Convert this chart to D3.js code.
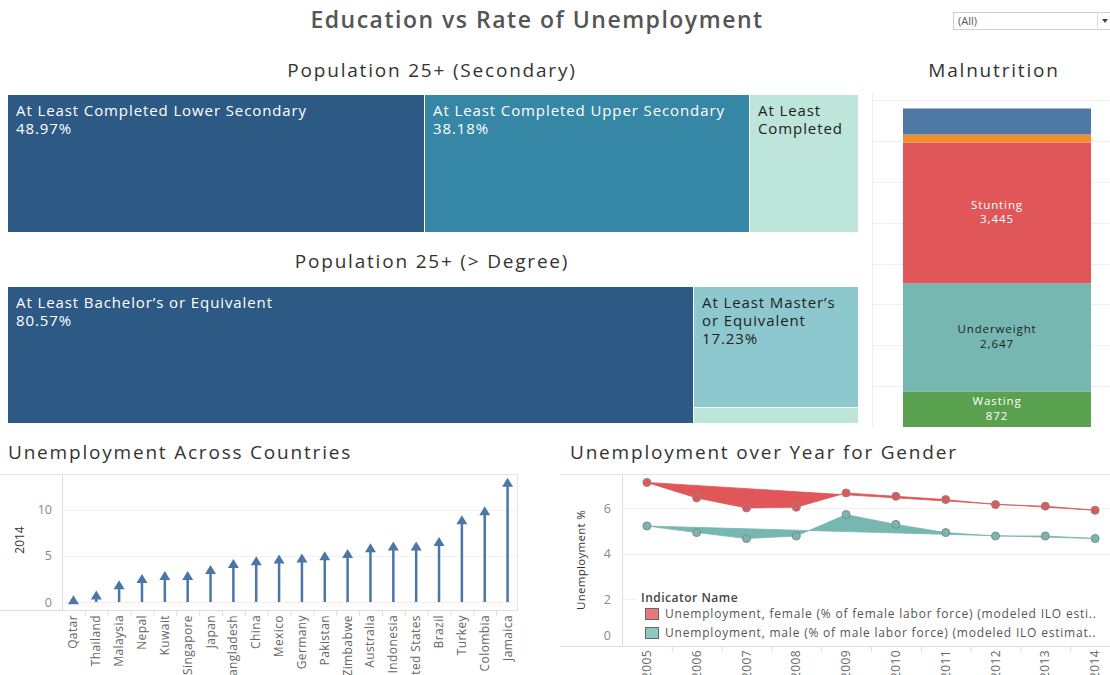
<!DOCTYPE html>
<html>
<head>
<meta charset="utf-8">
<script src="https://cdn.jsdelivr.net/npm/d3@7"></script>
<style>
  body { margin: 0; background: #fff; }
  svg { font-family: "Open Sans", sans-serif; display: block; }
</style>
</head>
<body>
<svg id="dash"></svg>
<script>
// --- data ---
const secNames = ["At Least Completed Lower Secondary", "At Least Completed Upper Secondary", "At Least Completed Post-Secondary"];
const secValues = [48.97, 38.18, 12.85];
const secColors = ["#2d5985", "#3686a6", "#bde5d9"];

const degNames = ["At Least Bachelor\u2019s or Equivalent", "At Least Master\u2019s or Equivalent", "Doctoral or Equivalent"];
const degValues = [80.57, 17.23, 2.20];
const degColors = ["#2d5985", "#8ec8cf", "#bde5d9"];

const malNames = ["Wasting", "Underweight", "Stunting", "Severe Wasting", "Overweight"];
const malValues = [872, 2647, 3445, 196, 636];
const malColors = ["#59a14f", "#76b7b2", "#e15759", "#f28e2b", "#4e79a7"];
const malShowLabel = [true, true, true, false, false];

const countries = ["Qatar", "Thailand", "Malaysia", "Nepal", "Kuwait", "Singapore", "Japan", "Bangladesh", "China", "Mexico",
  "Germany", "Pakistan", "Zimbabwe", "Australia", "Indonesia", "United States", "Brazil", "Turkey", "Colombia", "Jamaica"];
const unemp2014 = [0.2, 0.7, 1.8, 2.5, 2.8, 2.8, 3.45, 4.1, 4.4, 4.6, 4.7, 4.95, 5.2, 5.8, 6.0, 6.0, 6.5, 8.85, 9.8, 12.9];

const years = ["2005", "2006", "2007", "2008", "2009", "2010", "2011", "2012", "2013", "2014"];
const female = [7.13, 6.45, 6.01, 6.04, 6.67, 6.52, 6.38, 6.16, 6.09, 5.91];
const male = [5.22, 4.93, 4.67, 4.78, 5.72, 5.29, 4.93, 4.78, 4.78, 4.67];
const genderNames = ["Unemployment, female (% of female labor force) (modeled ILO esti..",
  "Unemployment, male (% of male labor force) (modeled ILO estimat.."];
const genderColors = ["#e15759", "#76b7b2"];

const W = 1110, H = 675;
const svg = d3.select("#dash").attr("width", W).attr("height", H);

// titles
svg.append("text").attr("x", 537).attr("y", 28).attr("text-anchor", "middle")
  .attr("font-size", 23).attr("fill", "#555").attr("font-weight", 600).attr("letter-spacing", 1.5)
  .text("Education vs Rate of Unemployment");

// filter dropdown
const dd = svg.append("g");
dd.append("rect").attr("x", 953.5).attr("y", 12.5).attr("width", 170).attr("height", 17)
  .attr("fill", "#fff").attr("stroke", "#d0d0d0");
dd.append("text").attr("x", 958).attr("y", 25).attr("font-size", 11).attr("fill", "#555").text("(All)");
dd.append("line").attr("x1", 1097.5).attr("x2", 1097.5).attr("y1", 13).attr("y2", 29).attr("stroke", "#ddd");
dd.append("path").attr("d", "M1102,19 L1108,19 L1105,23 Z").attr("fill", "#444");

function sectionTitle(x, y, txt, anchor) {
  svg.append("text").attr("x", x).attr("y", y).attr("text-anchor", anchor || "middle")
    .attr("font-size", 19).attr("fill", "#333").attr("letter-spacing", 1.8).text(txt);
}
sectionTitle(432, 77, "Population 25+ (Secondary)");
sectionTitle(432, 268, "Population 25+ (> Degree)");
sectionTitle(994, 77, "Malnutrition");
sectionTitle(8, 459, "Unemployment Across Countries", "start");
sectionTitle(570, 459, "Unemployment over Year for Gender", "start");

// --- treemaps ---
const ctx = document.createElement("canvas").getContext("2d");
const tmSize = 15, tmSpacing = 0.9;
function textWidth(t) {
  ctx.font = tmSize + "px 'Open Sans'";
  return ctx.measureText(t).width + t.length * tmSpacing;
}
function wrap(txt, width) {
  const words = txt.split(" "), lines = [];
  let cur = "";
  words.forEach(w => {
    const t = cur ? cur + " " + w : w;
    if (textWidth(t) > width && cur) { lines.push(cur); cur = w; } else cur = t;
  });
  if (cur) lines.push(cur);
  return lines;
}

let clipId = 0;
function drawTreemap(rootData, x0, y0, w, h) {
  const root = d3.hierarchy(rootData).sum(d => d.value || 0);
  d3.treemap().tile(d3.treemapSliceDice).size([w, h]).paddingInner(1).round(true)(root);
  const g = svg.append("g").attr("transform", `translate(${x0},${y0})`);
  root.leaves().forEach(leaf => {
    const d = leaf.data;
    const cell = g.append("g");
    const id = "clip" + (clipId++);
    cell.append("clipPath").attr("id", id).append("rect")
      .attr("x", leaf.x0).attr("y", leaf.y0).attr("width", leaf.x1 - leaf.x0).attr("height", leaf.y1 - leaf.y0);
    cell.append("rect").attr("x", leaf.x0).attr("y", leaf.y0)
      .attr("width", leaf.x1 - leaf.x0).attr("height", leaf.y1 - leaf.y0).attr("fill", d.color);
    if (leaf.y1 - leaf.y0 < 30) return;
    let lines = wrap(d.name, leaf.x1 - leaf.x0 - 14).concat([d.value.toFixed(2) + "%"]);
    if (leaf.x1 - leaf.x0 < 120) lines = lines.slice(0, 2);
    const t = cell.append("text").attr("clip-path", `url(#${id})`).attr("font-size", tmSize)
      .attr("fill", d.dark ? "#222" : "#fff").attr("letter-spacing", tmSpacing);
    lines.forEach((l, i) => t.append("tspan").attr("x", leaf.x0 + 8).attr("y", leaf.y0 + 21 + i * 18).text(l));
  });
}

drawTreemap({
  children: secNames.map((n, i) => ({ name: n, value: secValues[i], color: secColors[i], dark: i === 2 }))
}, 8, 95, 850, 137);

drawTreemap({
  children: [
    { name: degNames[0], value: degValues[0], color: degColors[0] },
    { children: [
      { name: degNames[1], value: degValues[1], color: degColors[1], dark: true },
      { name: degNames[2], value: degValues[2], color: degColors[2], dark: true }
    ] }
  ]
}, 8, 287, 850, 136);

// --- malnutrition stacked bar ---
const mY = d3.scaleLinear().domain([0, 8200]).range([427, 92]);
const mg = svg.append("g");
mg.append("line").attr("x1", 872.5).attr("x2", 872.5).attr("y1", 92).attr("y2", 427).attr("stroke", "#eee");
mg.selectAll("line.grid").data(d3.range(1000, 9000, 1000)).join("line").attr("class", "grid")
  .attr("x1", 872).attr("x2", W).attr("y1", d => Math.round(mY(d)) + 0.5).attr("y2", d => Math.round(mY(d)) + 0.5)
  .attr("stroke", "#f0f0f0");
let cum = 0;
const malStack = malValues.map((v, i) => { const s = { name: malNames[i], v: v, y0: cum, y1: cum + v, i: i }; cum += v; return s; });
mg.selectAll("rect.seg").data(malStack).join("rect").attr("class", "seg")
  .attr("x", 903).attr("width", 188)
  .attr("y", d => mY(d.y1)).attr("height", d => mY(d.y0) - mY(d.y1))
  .attr("fill", d => malColors[d.i]);
malStack.filter(d => malShowLabel[d.i]).forEach(d => {
  const cy = (mY(d.y0) + mY(d.y1)) / 2;
  const col = d.name === "Underweight" ? "#222" : "#fff";
  const t = mg.append("text").attr("text-anchor", "middle").attr("font-size", 11.5)
    .attr("letter-spacing", 0.9).attr("fill", col);
  t.append("tspan").attr("x", 997).attr("y", cy - 4).text(d.name);
  t.append("tspan").attr("x", 997).attr("y", cy + 10.5).text(d3.format(",")(d.v));
});

// --- unemployment across countries ---
const cx = d3.scaleBand().domain(countries).range([62, 519]);
const cy = d3.scaleLinear().domain([0, 13.84]).range([602, 474]);
const cg = svg.append("g");
cg.append("line").attr("x1", 0).attr("x2", 518).attr("y1", 474.5).attr("y2", 474.5).attr("stroke", "#e4e4e4");
cg.append("line").attr("x1", 517.5).attr("x2", 517.5).attr("y1", 474).attr("y2", 610).attr("stroke", "#e4e4e4");
cg.selectAll("line.grid").data([5, 10]).join("line").attr("class", "grid")
  .attr("x1", 62).attr("x2", 517).attr("y1", d => Math.round(cy(d)) + 0.5).attr("y2", d => Math.round(cy(d)) + 0.5)
  .attr("stroke", "#f2f2f2");
cg.append("line").attr("x1", 62).attr("x2", 517).attr("y1", cy(0) + 0.5).attr("y2", cy(0) + 0.5)
  .attr("stroke", "#ccc").attr("stroke-dasharray", "1,3");
cg.append("line").attr("x1", 62.5).attr("x2", 62.5).attr("y1", 474).attr("y2", 610).attr("stroke", "#ddd");
cg.append("line").attr("x1", 0).attr("x2", 518).attr("y1", 610.5).attr("y2", 610.5).attr("stroke", "#ddd");

const yAxisC = cg.append("g").attr("transform", "translate(62,0)")
  .call(d3.axisLeft(cy).tickValues([0, 5, 10]).tickSize(0).tickPadding(10));
yAxisC.select(".domain").remove();
yAxisC.selectAll("text").attr("font-size", 12.5).attr("fill", "#888").attr("font-family", "Open Sans");
cg.append("text").attr("transform", "translate(24,540) rotate(-90)").attr("text-anchor", "middle")
  .attr("font-size", 12).attr("fill", "#333").text("2014");

cg.selectAll("line.tick2").data(countries.slice(1)).join("line").attr("class", "tick2")
  .attr("x1", d => cx(d) + 0.5).attr("x2", d => cx(d) + 0.5).attr("y1", 610).attr("y2", 616).attr("stroke", "#ddd");
cg.selectAll("text.cname").data(countries).join("text").attr("class", "cname")
  .attr("transform", d => `translate(${cx(d) + cx.bandwidth() / 2 + 4},615) rotate(-90)`)
  .attr("text-anchor", "end").attr("font-size", 12).attr("letter-spacing", 0.4)
  .attr("fill", "#666").attr("font-family", "Open Sans")
  .text(d => d);

const arrowCol = "#4a76a8";
countries.forEach((c, i) => {
  const x = cx(c) + cx.bandwidth() / 2;
  const y = cy(unemp2014[i]);
  cg.append("line").attr("x1", x).attr("x2", x).attr("y1", cy(0)).attr("y2", y)
    .attr("stroke", arrowCol).attr("stroke-width", 2.5);
  cg.append("path").attr("d", `M${x - 5.5},${y + 4} L${x + 5.5},${y + 4} L${x},${y - 5} Z`).attr("fill", arrowCol);
});

// --- unemployment over year for gender ---
const gx = d3.scaleBand().domain(years).range([622, 1120]);
const gy = d3.scaleLinear().domain([0, 7.5]).range([645, 474]);
const gg = svg.append("g");
gg.append("line").attr("x1", 560).attr("x2", W).attr("y1", 474.5).attr("y2", 474.5).attr("stroke", "#e4e4e4");
gg.selectAll("line.grid").data([2, 4, 6]).join("line").attr("class", "grid")
  .attr("x1", 622).attr("x2", W).attr("y1", d => Math.round(gy(d)) + 0.5).attr("y2", d => Math.round(gy(d)) + 0.5)
  .attr("stroke", "#f0f0f0");
gg.append("line").attr("x1", 622.5).attr("x2", 622.5).attr("y1", 474).attr("y2", 646).attr("stroke", "#ddd");
gg.append("line").attr("x1", 560).attr("x2", W).attr("y1", 646.5).attr("y2", 646.5).attr("stroke", "#ddd");

const yAxisG = gg.append("g").attr("transform", "translate(622,0)")
  .call(d3.axisLeft(gy).tickValues([0, 2, 4, 6]).tickSize(0).tickPadding(11));
yAxisG.select(".domain").remove();
yAxisG.selectAll("text").attr("font-size", 12.5).attr("fill", "#888").attr("font-family", "Open Sans")
  .attr("dy", d => d === 0 ? "-0.45em" : "0.32em");
gg.append("text").attr("transform", "translate(585,560) rotate(-90)").attr("text-anchor", "middle")
  .attr("font-size", 11.5).attr("letter-spacing", 0.3).attr("fill", "#333").text("Unemployment %");

gg.selectAll("line.tick2").data(years.slice(1)).join("line").attr("class", "tick2")
  .attr("x1", d => gx(d) + 0.5).attr("x2", d => gx(d) + 0.5).attr("y1", 646).attr("y2", 652).attr("stroke", "#ddd");
gg.selectAll("text.yr").data(years).join("text").attr("class", "yr")
  .attr("transform", d => `translate(${gx(d) + gx.bandwidth() / 2 + 4},650) rotate(-90)`)
  .attr("text-anchor", "end").attr("font-size", 12).attr("letter-spacing", 0.4).attr("fill", "#666").text(d => d);

[female, male].forEach((series, si) => {
  const pts = years.map((y, i) => [gx(y) + gx.bandwidth() / 2, gy(series[i])]);
  gg.append("path").attr("d", d3.line().curve(d3.curveLinearClosed)(pts))
    .attr("fill", genderColors[si]).attr("stroke", genderColors[si]).attr("stroke-width", 0.8);
  gg.selectAll(null).data(pts).join("circle").attr("cx", d => d[0]).attr("cy", d => d[1]).attr("r", 4)
    .attr("fill", genderColors[si]).attr("stroke", "#888").attr("stroke-width", 1);
});

// legend
const lg = gg.append("g");
lg.append("rect").attr("x", 636).attr("y", 588).attr("width", 474).attr("height", 54).attr("fill", "#fff");
lg.append("text").attr("x", 641).attr("y", 602).attr("font-size", 12).attr("fill", "#444")
  .attr("font-weight", 600).attr("letter-spacing", 0.5).text("Indicator Name");
genderNames.forEach((n, i) => {
  lg.append("rect").attr("x", 645.5).attr("y", 608.5 + i * 19).attr("width", 13).attr("height", 11)
    .attr("fill", i === 0 ? "#e8787a" : "#8ec8c3").attr("stroke", "#666");
  lg.append("text").attr("x", 665).attr("y", 618 + i * 19).attr("font-size", 12)
    .attr("letter-spacing", 0.8).attr("fill", "#555").text(n);
});
</script>
</body>
</html>
